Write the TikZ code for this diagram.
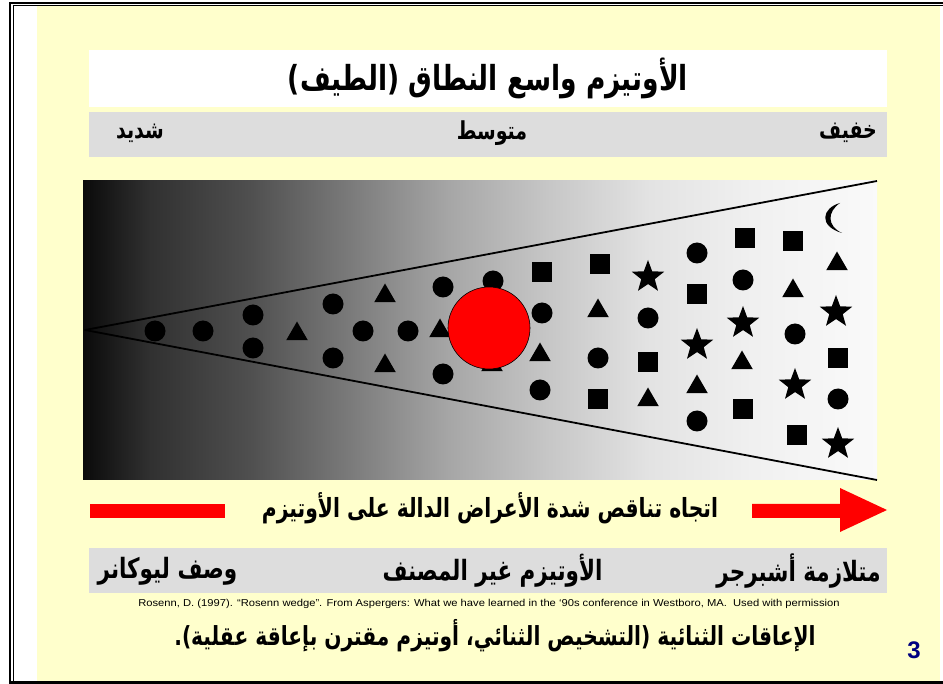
\documentclass[tikz,border=0pt]{standalone}
\usepackage{graphicx}
\usepackage{fontspec}
\setmainfont{Liberation Sans}
\newfontfamily\arabicfont[Script=Arabic]{DejaVu Sans}
\TeXXeTstate=1
\usetikzlibrary{shapes.geometric, positioning}
\definecolor{slideFl}{HTML}{FFFFCC}
\definecolor{barFl}{HTML}{DDDDDD}
\definecolor{signRd}{HTML}{FF0000}
\definecolor{pageNb}{HTML}{000080}
\newcommand{\arfont}[1]{\arabicfont\bfseries\fontsize{#1}{#1}\selectfont}
\newcommand{\tall}[1]{\scalebox{1}[1.3]{#1}}
\pgfdeclarehorizontalshading{wedgefade}{100bp}{color(0bp)=(black!96); color(25bp)=(black!96);
  color(29.2bp)=(black!81); color(35.5bp)=(black!69); color(41.8bp)=(black!52);
  color(48bp)=(black!35); color(54.4bp)=(black!22); color(60.7bp)=(black!11);
  color(67bp)=(black!6); color(75bp)=(black!2); color(100bp)=(black!2)}

\begin{document}
\begin{tikzpicture}[
  x=1pt, y=-1pt,
  bar/.style={minimum width=798pt, minimum height=45pt, inner sep=0pt},
  spot/.style={circle, fill=black, inner sep=0pt, minimum size=21pt},
  tile/.style={rectangle, fill=black, inner sep=0pt, minimum size=20pt},
  peak/.style={regular polygon, regular polygon sides=3, fill=black, inner sep=0pt, minimum size=25pt},
  astar/.style={star, star points=5, star point ratio=2.4, fill=black, inner sep=0pt, minimum size=34pt},
]
\useasboundingbox (0,0) rectangle (943,684);

% ---------------------------- the slide -----------------------------------
\fill[white] (0,0) rectangle (943,684);
\fill[slideFl] (37,6) rectangle (940,681);
\draw[line width=2pt] (10,684) -- (10,3) -- (943,3);
\draw[line width=1pt] (13.5,684) -- (13.5,5.5) -- (943,5.5);
\draw[line width=3pt] (9,682.5) -- (943,682.5);

% ---------------------------- heading -------------------------------------
\node[bar, fill=white, minimum height=57pt] (title) at (488,78.5)
  {\tall{\arfont{26.5}\beginR الأوتيزم واسع النطاق (الطيف)\endR}};
\node[bar, fill=barFl] (grade) at (488,134.5) {};
\node (severe) at (140,133) {\tall{\arfont{19}\beginR شديد\endR}};
\node (medium) at (492,133) {\tall{\arfont{19}\beginR متوسط\endR}};
\node (mild)   at (848,133) {\tall{\arfont{19}\beginR خفيف\endR}};

% ---------------------------- the wedge -----------------------------------
\shade[shading=wedgefade] (83,181) rectangle (877,480);
\coordinate (apex) at (85,330);
\coordinate (upper) at (877,181);
\coordinate (lower) at (877,480);
\draw[line width=1.8pt, line join=round] (upper) -- (apex) -- (lower);

\foreach \x/\y [count=\i] in {155/331, 203/331, 253/315, 253/348, 333/304, 333/358,
    363/331, 408/331, 443/287, 443/374, 493/281, 542/313, 540/390, 598/358, 648/318,
    697/253, 697/421, 743/280, 795/334, 838/399}
  \node[spot] (spot\i) at (\x,\y) {};
\foreach \x/\y [count=\i] in {297/334, 385/296, 385/366, 440/331, 492/365, 540/355,
    598/311, 648/400, 697/387, 742/363, 793/291, 837/264}
  \node[peak] (peak\i) at (\x,\y) {};
\foreach \x/\y [count=\i] in {542/272, 600/264, 598/399, 648/362, 697/294, 745/238,
    743/409, 793/241, 797/435, 838/358}
  \node[tile] (tile\i) at (\x,\y) {};
\foreach \x/\y [count=\i] in {648/277, 697/345, 743/323, 795/385, 836/312, 838/444}
  \node[astar] (astar\i) at (\x,\y) {};

% the moon in the far corner
\fill (840,203) .. controls (822,208) and (818,226) .. (842,233)
  .. controls (827,226) and (827,212) .. (840,203) -- cycle;

% the red disc sits over the middle of the wedge
\node[circle, fill=signRd, draw=black, line width=0.6pt, inner sep=0pt,
  minimum size=82pt] (core) at (489,328) {};

% ---------------------------- direction -----------------------------------
\node (trend) at (490,508)
  {\tall{\arfont{20.3}\beginR اتجاه تناقص شدة الأعراض الدالة على الأوتيزم\endR}};
\fill[signRd] (90,504) rectangle (225,518);
\fill[signRd] (752,504) -- (840,504) -- (840,488) -- (887,510) -- (840,532)
  -- (840,518) -- (752,518) -- cycle;

% ---------------------------- diagnoses -----------------------------------
\node[bar, fill=barFl] (diag) at (488,570.5) {};
\node (kanner)   at (167.5,571) {\tall{\arfont{21.5}\beginR وصف ليوكانر\endR}};
\node (pdd)      at (492.5,571) {\tall{\arfont{21.5}\beginR الأوتيزم غير المصنف\endR}};
\node (asperger) at (798.5,571) {\tall{\arfont{21.5}\beginR متلازمة أشبرجر\endR}};

\node (source) at (489,604) {\scalebox{1.12}[1]{\fontsize{10}{10}\selectfont Rosenn, D. (1997). “Rosenn wedge”. From Aspergers: What we have learned in the ‘90s conference in Westboro, MA.\ \ Used with permission}};

\node (dual) at (495,636)
  {\tall{\arfont{20.2}\beginR الإعاقات الثنائية (التشخيص الثنائي، أوتيزم مقترن بإعاقة عقلية).\endR}};

\node[text=pageNb] (page) at (914,650) {\fontsize{24}{24}\selectfont\bfseries 3};

\end{tikzpicture}
\end{document}
